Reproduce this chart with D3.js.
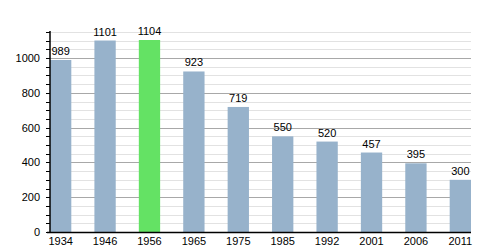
<!DOCTYPE html>
<html>
<head>
<meta charset="utf-8">
<script src="https://cdn.jsdelivr.net/npm/d3@7"></script>
<style>
  body { margin: 0; background: #fff; }
  text { font-family: "Liberation Sans", Arial, sans-serif; font-size: 11px; fill: #000; }
</style>
</head>
<body>
<div id="chart"></div>
<script>
// population by census year
const years = ['1934', '1946', '1956', '1965', '1975', '1985', '1992', '2001', '2006', '2011']
const population = [989, 1101, 1104, 923, 719, 550, 520, 457, 395, 300]
const highlightYear = '1956'
const majorTicks = [0, 200, 400, 600, 800, 1000]

const width = 500, height = 250
const margin = { left: 50, right: 471, top: 32, bottom: 232 }

const svg = d3.select('#chart').append('svg')
    .attr('width', width)
    .attr('height', height)

const x = d3.scaleBand()
    .domain(years)
    .range([margin.left, margin.right])
    .paddingInner(0.52)
    .paddingOuter(0)
    .align(0)

const y = d3.scaleLinear()
    .domain([0, 1150])
    .range([margin.bottom, margin.top])

// minor gridlines every 50
const minor = d3.range(50, 1151, 50).filter(v => v % 200 !== 0)
svg.append('g').selectAll('line')
    .data(minor)
    .enter().append('line')
    .attr('x1', margin.left).attr('x2', margin.right)
    .attr('y1', d => Math.round(y(d)) + 0.5)
    .attr('y2', d => Math.round(y(d)) + 0.5)
    .attr('stroke', '#e2e2e2')
    .attr('stroke-width', 1)

svg.append('g').selectAll('line')
    .data(majorTicks.filter(d => d > 0))
    .enter().append('line')
    .attr('x1', margin.left).attr('x2', margin.right)
    .attr('y1', d => Math.round(y(d)) + 0.5)
    .attr('y2', d => Math.round(y(d)) + 0.5)
    .attr('stroke', '#a8a8a8')
    .attr('stroke-width', 1)

// bars
svg.append('g').selectAll('rect')
    .data(years)
    .enter().append('rect')
    .attr('x', d => x(d))
    .attr('y', (d, i) => y(population[i]))
    .attr('width', x.bandwidth())
    .attr('height', (d, i) => y(0) - y(population[i]))
    .attr('fill', d => d === highlightYear ? '#64e264' : '#97b2cb')

// value labels
svg.append('g').selectAll('text')
    .data(years)
    .enter().append('text')
    .attr('x', d => x(d) + x.bandwidth() / 2)
    .attr('y', (d, i) => y(population[i]) - 5)
    .attr('text-anchor', 'middle')
    .text((d, i) => population[i])

// y axis with minor ticks
const yAxis = svg.append('g').attr('transform', 'translate(' + margin.left + ',0)')
yAxis.append('line')
    .attr('x1', 0).attr('x2', 0)
    .attr('y1', margin.top - 1).attr('y2', margin.bottom)
    .attr('stroke', '#000').attr('stroke-width', 1.5)
yAxis.selectAll('.tk')
    .data(d3.range(0, 1151, 50))
    .enter().append('line')
    .attr('class', 'tk')
    .attr('x1', -4).attr('x2', 0)
    .attr('y1', d => Math.round(y(d)) + 0.5)
    .attr('y2', d => Math.round(y(d)) + 0.5)
    .attr('stroke', '#000')
yAxis.selectAll('text')
    .data(majorTicks)
    .enter().append('text')
    .attr('x', -10)
    .attr('y', d => y(d) + 4)
    .attr('text-anchor', 'end')
    .text(d => d)

// x axis
svg.append('line')
    .attr('x1', margin.left - 3).attr('x2', margin.right)
    .attr('y1', margin.bottom + 0.5).attr('y2', margin.bottom + 0.5)
    .attr('stroke', '#000').attr('stroke-width', 1.5)

svg.append('g').selectAll('text')
    .data(years)
    .enter().append('text')
    .attr('x', d => x(d) + x.bandwidth() / 2)
    .attr('y', margin.bottom + 13)
    .attr('text-anchor', 'middle')
    .text(d => d)
</script>
</body>
</html>
